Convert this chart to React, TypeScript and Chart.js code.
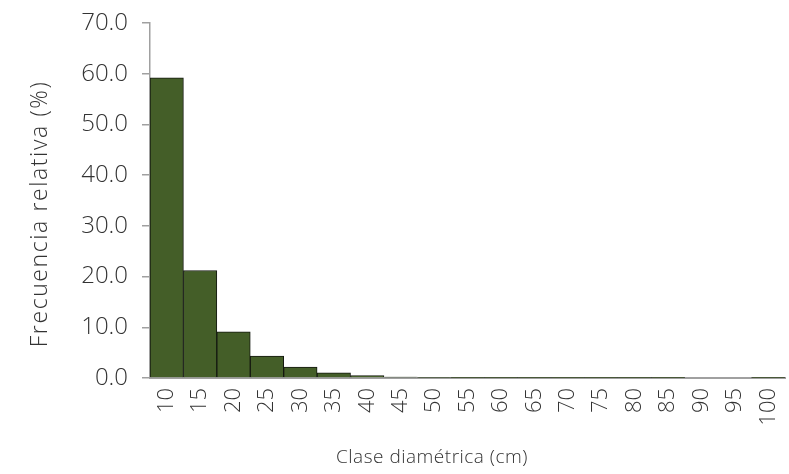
import React, { useEffect, useRef } from "react";
import { Chart, registerables } from "chart.js";

Chart.register(...registerables);

const categories = ["10", "15", "20", "25", "30", "35", "40", "45", "50", "55", "60", "65", "70", "75", "80", "85", "90", "95", "100"];
const frecuencia = [59.2, 21.2, 9.1, 4.3, 2.15, 1.0, 0.47, 0.2, 0.1, 0.05, 0.04, 0.04, 0.04, 0.04, 0.04, 0.04, 0, 0, 0.04];
const yTicks = [0, 10, 20, 30, 40, 50, 60, 70];
const xTitle = "Clase diamétrica (cm)";
const yTitle = "Frecuencia relativa (%)";

const FONT = "'Open Sans', 'DejaVu Sans', sans-serif";
const TEXT = "#333333";

const titlesPlugin = {
  id: "customTitles",
  afterDraw(chart: any) {
    const ctx = chart.ctx as CanvasRenderingContext2D;
    ctx.save();
    ctx.fillStyle = TEXT;
    ctx.textAlign = "center";
    ctx.textBaseline = "middle";
    (ctx as any).letterSpacing = "0.5px";
    ctx.font = `300 19px ${FONT}`;
    ctx.fillText(xTitle, 432, 458);
    ctx.translate(40, 214);
    ctx.rotate(-Math.PI / 2);
    (ctx as any).letterSpacing = "1.6px";
    ctx.font = `300 23px ${FONT}`;
    ctx.fillText(yTitle, 0, 0);
    ctx.restore();
  },
};

export default function App() {
  const ref = useRef<HTMLCanvasElement | null>(null);
  useEffect(() => {
    document.body.style.margin = "0";
    const ctx = ref.current!;
    const chart = new Chart(ctx, {
      type: "bar",
      data: {
        labels: categories,
        datasets: [
          {
            data: frecuencia,
            backgroundColor: "#445e28",
            borderColor: "#141810",
            borderWidth: 1,
            barPercentage: 1,
            categoryPercentage: 1,
          },
        ],
      },
      plugins: [titlesPlugin],
      options: {
        animation: false,
        responsive: false,
        maintainAspectRatio: false,
        layout: { padding: { top: 23, right: 4, left: 0, bottom: 0 } },
        plugins: { legend: { display: false }, tooltip: { enabled: false } },
        scales: {
          x: {
            grid: { display: false, drawTicks: false },
            border: { color: "#a0a0a0", width: 2 },
            ticks: {
              color: TEXT,
              font: { family: FONT, size: 22, weight: "300" as any },
              maxRotation: 90,
              minRotation: 90,
              autoSkip: false,
              padding: 10,
            },
            afterFit: (s: any) => {
              s.height = 96;
              s.paddingRight = 0;
              s.paddingLeft = 0;
            },
          },
          y: {
            min: 0,
            max: 70,
            afterBuildTicks: (s: any) => {
              s.ticks = yTicks.map((v) => ({ value: v }));
            },
            grid: { drawOnChartArea: false, drawTicks: true, tickLength: 8, color: "#a0a0a0", lineWidth: 1.5 },
            border: { color: "#a0a0a0", width: 1.5 },
            ticks: {
              color: TEXT,
              font: { family: FONT, size: 24, weight: "300" as any },
              padding: 14,
              callback: (v: any) => Number(v).toFixed(1),
            },
            afterFit: (s: any) => {
              s.width = 150;
              s.paddingTop = 0;
              s.paddingBottom = 0;
            },
          },
        },
      },
    });
    return () => chart.destroy();
  }, []);
  return <canvas ref={ref} width={789} height={474} style={{ display: "block" }} />;
}
